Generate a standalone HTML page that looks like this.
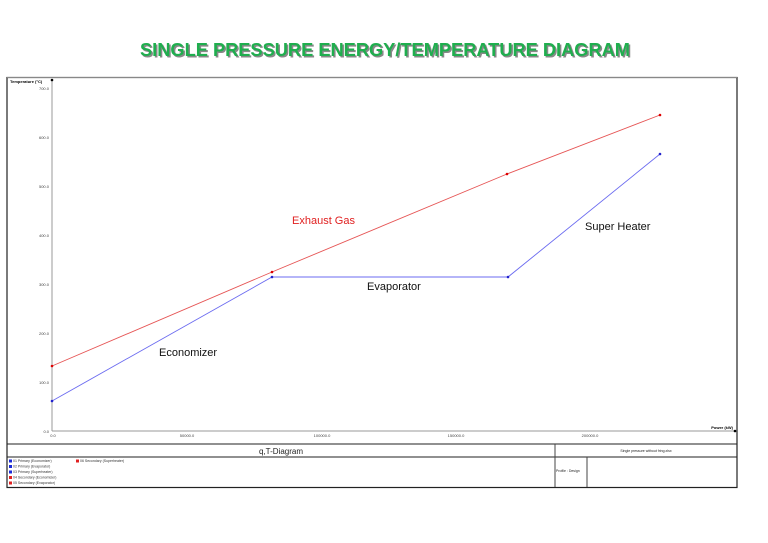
<!DOCTYPE html>
<html><head><meta charset="utf-8"><style>html,body{margin:0;padding:0;background:#fff}svg{display:block}</style></head>
<body>
<svg width="768" height="543" xmlns="http://www.w3.org/2000/svg" font-family="Liberation Sans, sans-serif">
<text x="140" y="56" font-size="18" font-weight="bold" fill="#888" textLength="490" lengthAdjust="spacingAndGlyphs" transform="translate(1.5,1.5)">SINGLE PRESSURE ENERGY/TEMPERATURE DIAGRAM</text>
<text x="140" y="56" font-size="18" font-weight="bold" fill="#1fae4e" textLength="490" lengthAdjust="spacingAndGlyphs">SINGLE PRESSURE ENERGY/TEMPERATURE DIAGRAM</text>
<rect x="7" y="77.5" width="730" height="410" fill="none" stroke="#222" stroke-width="1.2"/>
<line x1="7" y1="77.5" x2="737" y2="77.5" stroke="#888"/>
<line x1="7" y1="444" x2="737" y2="444" stroke="#222"/>
<line x1="7" y1="457" x2="737" y2="457" stroke="#222"/>
<line x1="555" y1="444" x2="555" y2="487" stroke="#444"/>
<line x1="587" y1="457" x2="587" y2="487" stroke="#444"/>
<line x1="52" y1="80" x2="52" y2="431" stroke="#999"/>
<line x1="52" y1="431" x2="735" y2="431" stroke="#999"/>
<circle cx="52" cy="80" r="1.3" fill="#000"/><circle cx="735" cy="431" r="1.3" fill="#000"/>
<g font-size="4" fill="#444" text-anchor="end">
<text x="49" y="90">700.0</text><text x="49" y="139">600.0</text><text x="49" y="188">500.0</text><text x="49" y="237">400.0</text><text x="49" y="286">300.0</text><text x="49" y="335">200.0</text><text x="49" y="384">100.0</text><text x="49" y="433">0.0</text>
</g>
<g font-size="4" fill="#444" text-anchor="middle">
<text x="53" y="437">0.0</text><text x="187" y="437">50000.0</text><text x="322" y="437">100000.0</text><text x="456" y="437">150000.0</text><text x="590" y="437">200000.0</text>
</g>
<text x="10" y="83" font-size="4" font-weight="bold">Temperature (°C)</text>
<text x="733" y="429" font-size="4" font-weight="bold" text-anchor="end">Power (kW)</text>
<polyline points="52,366 272,272 507,174 660,115" fill="none" stroke="#e65555" stroke-width="0.9"/>
<polyline points="52,401 272,277 508,277 660,154" fill="none" stroke="#6b6bf0" stroke-width="0.9"/>
<g fill="#d00"><circle cx="52" cy="366" r="1.3"/><circle cx="272" cy="272" r="1.3"/><circle cx="507" cy="174" r="1.3"/><circle cx="660" cy="115" r="1.3"/></g>
<g fill="#22c"><circle cx="52" cy="401" r="1.3"/><circle cx="272" cy="277" r="1.3"/><circle cx="508" cy="277" r="1.3"/><circle cx="660" cy="154" r="1.3"/></g>
<text x="292" y="224" font-size="11" fill="#e02020">Exhaust Gas</text>
<text x="585" y="230" font-size="11" fill="#111">Super Heater</text>
<text x="367" y="290" font-size="11" fill="#111">Evaporator</text>
<text x="159" y="356" font-size="11" fill="#111">Economizer</text>
<text x="281" y="454" font-size="8" fill="#222" text-anchor="middle">q,T-Diagram</text>
<text x="646" y="452" font-size="3.5" fill="#222" text-anchor="middle">Single pressure without fring.xlsx</text>
<text x="556" y="472" font-size="3.5" fill="#222">Profile : Design</text>
<g font-size="3.5" fill="#333">
<rect x="9" y="459.5" width="3" height="3" fill="#1a2ad8"/><text x="13" y="462">01 Primary (Economizer)</text>
<rect x="9" y="465" width="3" height="3" fill="#1a2ad8"/><text x="13" y="467.5">02 Primary (Evaporator)</text>
<rect x="9" y="470.5" width="3" height="3" fill="#1a2ad8"/><text x="13" y="473">03 Primary (Superheater)</text>
<rect x="9" y="476" width="3" height="3" fill="#e02020"/><text x="13" y="478.5">04 Secondary (Economizer)</text>
<rect x="9" y="481.5" width="3" height="3" fill="#e02020"/><text x="13" y="484">05 Secondary (Evaporator)</text>
<rect x="76" y="459.5" width="3" height="3" fill="#e02020"/><text x="80" y="462">06 Secondary (Superheater)</text>
</g>
</svg>
</body></html>
